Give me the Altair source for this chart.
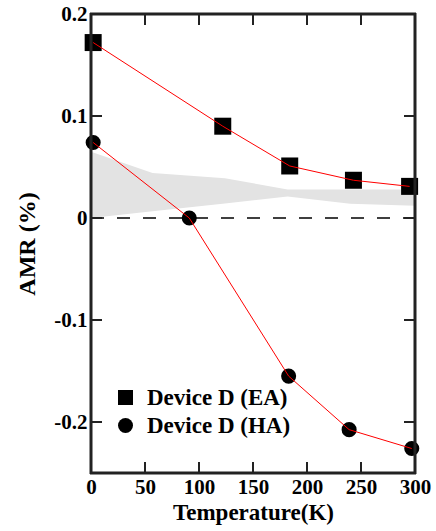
import altair as alt
import pandas as pd

# Data
ea_temp = [2, 122, 184, 243, 295]
ea_amr = [0.172, 0.090, 0.051, 0.037, 0.031]
ha_temp = [2, 91, 183, 239, 297]
ha_amr = [0.074, 0.0, -0.155, -0.2075, -0.226]
band_temp = [0, 57, 124, 182, 240, 300]
band_upper = [0.065, 0.044, 0.039, 0.028, 0.028, 0.028]
band_lower = [0.0, 0.0066, 0.0143, 0.021, 0.014, 0.012]
series_names = ["Device D (EA)", "Device D (HA)"]
x_ticks = [50, 100, 150, 200, 250]
y_ticks = [0.1, 0.0, -0.1, -0.2]
x_labels = [0, 50, 100, 150, 200, 250, 300]
y_labels = [0.2, 0.1, 0.0, -0.1, -0.2]
x_edges = [0, 300]
y_edges = [-0.25, 0.2]

W, H = 324, 459
FONT = "Liberation Serif"
TICK = 11
FRAME = "#222222"

ea = pd.DataFrame({"T": ea_temp, "AMR": ea_amr, "series": series_names[0]})
ha = pd.DataFrame({"T": ha_temp, "AMR": ha_amr, "series": series_names[1]})
pts = pd.concat([ea, ha], ignore_index=True)
band = pd.DataFrame({"T": band_temp, "lo": band_lower, "hi": band_upper})
zero = pd.DataFrame({"T": [0, 300], "AMR": [0, 0]})
xt = pd.DataFrame({"T": x_ticks})
yt = pd.DataFrame({"AMR": y_ticks})
xe = pd.DataFrame({"T": x_edges})
ye = pd.DataFrame({"AMR": y_edges})

xscale = alt.Scale(domain=[0, 300], nice=False, zero=False)
yscale = alt.Scale(domain=[-0.25, 0.2], nice=False, zero=False)
shape_scale = alt.Scale(domain=series_names, range=["square", "circle"])

xaxis = alt.Axis(values=x_labels, title="Temperature(K)", grid=False,
                 domain=False,
                 ticks=False, labelFlush=False, labelPadding=3, labelFontSize=21,
                 labelFont=FONT, labelFontWeight="bold", labelColor="black",
                 titleFont=FONT, titleFontSize=23, titleFontWeight="bold",
                 titleColor="black", titleBaseline="alphabetic", titleY=46,
                 labelOverlap=False)
yaxis = alt.Axis(values=y_labels, title="AMR (%)", grid=False,
                 domain=False,
                 ticks=False, labelPadding=4, labelFontSize=21,
                 labelFont=FONT, labelFontWeight="bold", labelColor="black",
                 labelExpr="datum.value == 0 ? '0' : (datum.value < 0 ? '-' + format(-datum.value, '.1f') : format(datum.value, '.1f'))",
                 titleFont=FONT, titleFontSize=24, titleFontWeight="bold",
                 titleColor="black", titleX=-64, titleY=H / 2, titleAngle=-90,
                 titleAlign="center", titleBaseline="middle", labelOverlap=False)

legend = alt.Legend(title=None, orient="none", legendX=23, legendY=372,
                    labelFont=FONT, labelFontSize=23, labelFontWeight="bold",
                    labelColor="black", symbolSize=225, symbolFillColor="black",
                    symbolStrokeColor="black", symbolStrokeWidth=0, symbolOpacity=1,
                    rowPadding=4, labelOffset=10, padding=0)

band_layer = alt.Chart(band).mark_area(color="#e3e3e3", opacity=1).encode(
    x=alt.X("T:Q", scale=xscale, axis=xaxis),
    y=alt.Y("hi:Q", scale=yscale, axis=yaxis),
    y2="lo:Q",
)

zero_layer = alt.Chart(zero).mark_line(color="black", strokeWidth=1.3, strokeDash=[13, 13]).encode(
    x=alt.X("T:Q", scale=xscale), y=alt.Y("AMR:Q", scale=yscale)
)

sq_layer = alt.Chart(ea).mark_point(filled=True, color="black", opacity=1, size=289).encode(
    x=alt.X("T:Q", scale=xscale),
    y=alt.Y("AMR:Q", scale=yscale),
    shape=alt.Shape("series:N", scale=shape_scale, legend=legend),
)
ci_layer = alt.Chart(ha).mark_point(filled=True, color="black", opacity=1, size=227).encode(
    x=alt.X("T:Q", scale=xscale),
    y=alt.Y("AMR:Q", scale=yscale),
    shape=alt.Shape("series:N", scale=shape_scale, legend=legend),
)

line_layer = alt.Chart(pts).mark_line(color="#ff0000", strokeWidth=1).encode(
    x=alt.X("T:Q", scale=xscale), y=alt.Y("AMR:Q", scale=yscale), detail="series:N"
)

bottom_ticks = alt.Chart(xt).mark_rule(color=FRAME, strokeWidth=2).encode(
    x=alt.X("T:Q", scale=xscale), y=alt.value(H - TICK), y2=alt.value(H))
top_ticks = alt.Chart(xt).mark_rule(color=FRAME, strokeWidth=2).encode(
    x=alt.X("T:Q", scale=xscale), y=alt.value(0), y2=alt.value(TICK))
left_ticks = alt.Chart(yt).mark_rule(color=FRAME, strokeWidth=2).encode(
    y=alt.Y("AMR:Q", scale=yscale), x=alt.value(0), x2=alt.value(TICK))
right_ticks = alt.Chart(yt).mark_rule(color=FRAME, strokeWidth=2).encode(
    y=alt.Y("AMR:Q", scale=yscale), x=alt.value(W - TICK), x2=alt.value(W))

# plot frame drawn as four thin rectangles along the domain edges
frame_v = alt.Chart(xe).mark_tick(color=FRAME, thickness=3, size=H + 2, orient="vertical", opacity=1).encode(
    x=alt.X("T:Q", scale=xscale), y=alt.value(H / 2))
frame_h = alt.Chart(ye).mark_tick(color=FRAME, thickness=3, size=W + 2, orient="horizontal", opacity=1).encode(
    y=alt.Y("AMR:Q", scale=yscale), x=alt.value(W / 2))

chart = alt.layer(
    band_layer, zero_layer, sq_layer, ci_layer, line_layer,
    bottom_ticks, top_ticks, left_ticks, right_ticks,
    frame_v, frame_h,
).properties(
    width=W, height=H,
    autosize=alt.AutoSizeParams(type="none"),
    padding={"left": 91, "top": 14, "right": 21, "bottom": 58},
    background="white",
).configure_view(stroke=FRAME, strokeWidth=2)

chart.save("out.html", embed_options={"renderer": "svg", "actions": False})
